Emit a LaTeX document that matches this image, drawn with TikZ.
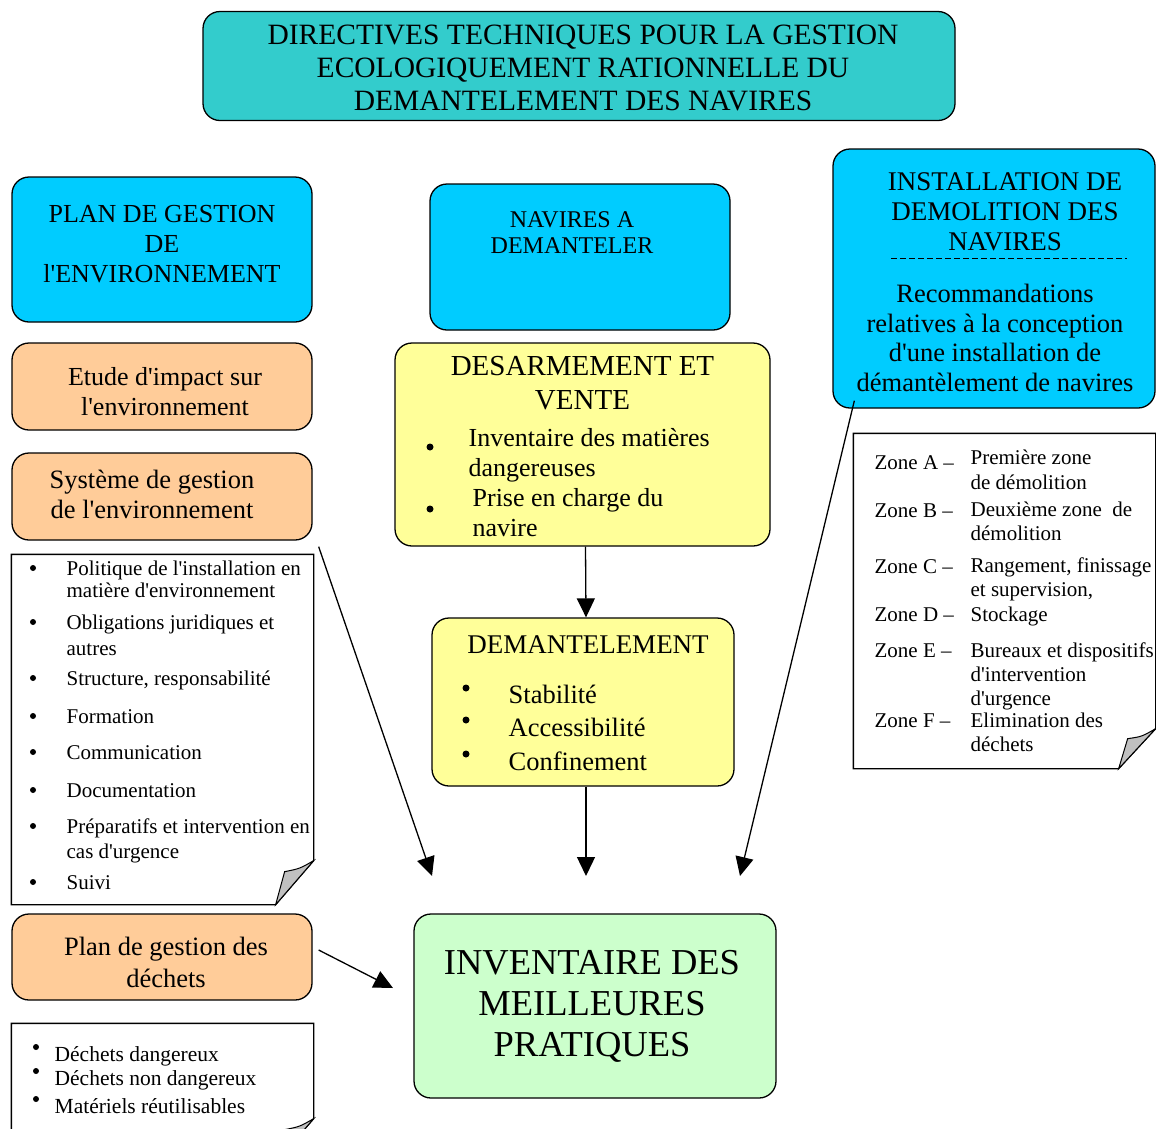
\documentclass[tikz,border=0pt]{standalone}
\usepackage{fontspec}
\setmainfont{Liberation Serif}[Ligatures=TeXOff]
\usetikzlibrary{positioning,arrows.meta}

\definecolor{titleteal}{HTML}{33CCCC}
\definecolor{skyblue}{HTML}{00CCFF}
\definecolor{peach}{HTML}{FFCC99}
\definecolor{paleyellow}{HTML}{FFFF99}
\definecolor{palegreen}{HTML}{CCFFCC}
\definecolor{foldgray}{HTML}{C0C0C0}

\tikzset{
  box/.style={draw, line width=1.3pt, rounded corners=17pt, inner sep=0pt, align=center},
  note/.style={inner sep=0pt},
  outline/.style={draw, line width=1.3pt},
  fold/.style={draw, line width=1pt, fill=foldgray},
  heading/.style={inner sep=0pt, align=center},
  listitem/.style={inner sep=0pt, anchor=base west, align=left, font={\fontsize{21}{22}\selectfont}},
}

\begin{document}
\begin{tikzpicture}[x=1pt, y=-1pt, >={Triangle[length=19pt,width=18pt]}, line width=1.3pt]
  \useasboundingbox (0,0) rectangle (1156,1128);

  % main boxes
  \node[box, fill=titleteal, minimum width=752, minimum height=109] (title) at (579,66) {};
  \node[heading, font={\fontsize{29.5}{33}\selectfont}, xshift=4pt, yshift=-2pt] (titletext) at (title) {DIRECTIVES TECHNIQUES POUR LA GESTION\\ECOLOGIQUEMENT RATIONNELLE DU\\DEMANTELEMENT DES NAVIRES};
  \node[box, fill=skyblue, minimum width=300, minimum height=145] (plan) at (162,249.5) {};
  \node[heading, font={\fontsize{26}{30}\selectfont}, yshift=5pt] (plantext) at (plan) {PLAN DE GESTION\\DE\\l'ENVIRONNEMENT};
  \node[box, fill=skyblue, minimum width=300, minimum height=146] (nav) at (580,257) {};
  \node[heading, font={\fontsize{24}{26}\selectfont}, below=28pt of nav.north, xshift=-8pt] (navtext) {NAVIRES A\\DEMANTELER};
  \node[box, fill=skyblue, minimum width=322, minimum height=259] (inst) at (994,278.5) {};
  \node[heading, font={\fontsize{27}{30}\selectfont}, below=24pt of inst.north, xshift=11pt] (insthead) {INSTALLATION DE\\DEMOLITION DES\\NAVIRES};
  \draw[dash pattern=on 6pt off 3pt, line width=1pt] (891,258) -- (1127,258);
  \node[heading, font={\fontsize{26.5}{29.5}\selectfont}] (instrec) at (995,338) {Recommandations\\relatives à la conception\\d'une installation de\\démantèlement de navires};

  \node[box, fill=peach, minimum width=300, minimum height=87] (etude) at (162,386.5) {};
  \node[heading, font={\fontsize{26}{30}\selectfont}, xshift=3pt, yshift=-5pt] (etudetext) at (etude) {Etude d'impact sur\\l'environnement};
  \node[box, fill=peach, minimum width=300, minimum height=87] (sys) at (162,496.5) {};
  \node[heading, font={\fontsize{26.5}{30}\selectfont}, xshift=-10pt, yshift=2pt] (systext) at (sys) {Système de gestion\\de l'environnement};
  \node[box, fill=peach, minimum width=300, minimum height=86] (waste) at (162,957) {};
  \node[heading, font={\fontsize{26.5}{32}\selectfont}, xshift=4pt, yshift=-5pt] (wastetext) at (waste) {Plan de gestion des\\déchets};

  \node[box, fill=paleyellow, minimum width=375, minimum height=203] (des) at (582.5,444.5) {};
  \node[heading, font={\fontsize{29}{34}\selectfont}, below=13pt of des.north] (destitle) {DESARMEMENT ET\\VENTE};
  \node[listitem, font={\fontsize{26}{30}\selectfont}] (des1) at (468,476) {Inventaire des matières\\dangereuses};
  \node[listitem, font={\fontsize{26}{30}\selectfont}] (des2) at (472,536) {Prise en charge du\\navire};
  \fill (430,447) circle (3.5pt) (430,509) circle (3.5pt);

  \node[box, fill=paleyellow, minimum width=302, minimum height=168] (dem) at (583,702) {};
  \node[heading, font={\fontsize{27}{30}\selectfont}, below=18pt of dem.north, xshift=5pt] (demtitle) {DEMANTELEMENT};
  \node[listitem, font={\fontsize{26.5}{30}\selectfont}] (dem1) at (508,703) {Stabilité};
  \node[listitem, font={\fontsize{26.5}{30}\selectfont}] (dem2) at (508,736) {Accessibilité};
  \node[listitem, font={\fontsize{26.5}{30}\selectfont}] (dem3) at (508,770) {Confinement};
  \foreach \y in {688,720,754} \fill (466,\y) circle (3.5pt);

  \node[box, fill=palegreen, minimum width=362, minimum height=184] (inv) at (595,1006) {};
  \node[heading, font={\fontsize{36.5}{41}\selectfont}, xshift=-3pt] (invtext) at (inv) {INVENTAIRE DES\\MEILLEURES\\PRATIQUES};

  % notes with folded corner
  \node[note, minimum width=301, minimum height=349] (polnote) at (162.5,729.5) {};
  \draw[outline] (polnote.north west) -- (polnote.north east) -- ([yshift=44pt]polnote.south east) -- ([xshift=-38pt]polnote.south east) -- (polnote.south west) -- cycle;
  \draw[fold] ([yshift=44pt]polnote.south east) .. controls ([shift={(-14pt,36pt)}]polnote.south east) .. ([shift={(-29pt,33pt)}]polnote.south east) -- ([xshift=-38pt]polnote.south east) -- cycle;
  \foreach \y in {568,622,678,716,752,790,826,882} \fill (33,\y) circle (3pt);
  \node[listitem] (pol1) at (66,597) {Politique de l'installation en\\matière d'environnement};
  \node[listitem] (pol2) at (66,655) {Obligations juridiques et\\[4pt]autres};
  \node[listitem] (pol3) at (66,685) {Structure, responsabilité};
  \node[listitem] (pol4) at (66,723) {Formation};
  \node[listitem] (pol5) at (66,759) {Communication};
  \node[listitem] (pol6) at (66,797) {Documentation};
  \node[listitem] (pol7) at (66,858) {Préparatifs et intervention en\\[3pt]cas d'urgence};
  \node[listitem] (pol8) at (66,889) {Suivi};

  \node[note, minimum width=301, minimum height=334] (zonenote) at (1004.5,601) {};
  \draw[outline] (zonenote.north west) -- (zonenote.north east) -- ([yshift=40pt]zonenote.south east) -- ([xshift=-37pt]zonenote.south east) -- (zonenote.south west) -- cycle;
  \draw[fold] ([yshift=40pt]zonenote.south east) .. controls ([shift={(-14pt,32pt)}]zonenote.south east) .. ([shift={(-28pt,30pt)}]zonenote.south east) -- ([xshift=-37pt]zonenote.south east) -- cycle;
  \foreach \z/\y in {A/469,B/517,C/573,D/621,E/657,F/727}
    \node[listitem] (zone\z) at (874,\y) {Zone \z~–};
  \node[listitem, font={\fontsize{21}{25}\selectfont}] (zdescA) at (970,489) {Première zone\\de démolition};
  \node[listitem, font={\fontsize{21}{24}\selectfont}] (zdescB) at (970,540) {Deuxième zone \ de\\démolition};
  \node[listitem, font={\fontsize{21}{24}\selectfont}] (zdescC) at (970,596) {Rangement, finissage\\et supervision,};
  \node[listitem] (zdescD) at (970,621) {Stockage};
  \node[listitem, font={\fontsize{21}{24}\selectfont}] (zdescE) at (970,705) {Bureaux et dispositifs\\d'intervention\\d'urgence};
  \node[listitem, font={\fontsize{21}{24}\selectfont}] (zdescF) at (970,751) {Elimination des\\déchets};

  \node[note, minimum width=301, minimum height=138] (wastenote) at (162.5,1093) {};
  \draw[outline] (wastenote.north west) -- (wastenote.north east) -- ([yshift=44pt]wastenote.south east) -- ([xshift=-38pt]wastenote.south east) -- (wastenote.south west) -- cycle;
  \draw[fold] ([yshift=44pt]wastenote.south east) .. controls ([shift={(-14pt,36pt)}]wastenote.south east) .. ([shift={(-29pt,33pt)}]wastenote.south east) -- ([xshift=-38pt]wastenote.south east) -- cycle;
  \foreach \y in {1047,1071,1099} \fill (36,\y) circle (3pt);
  \node[listitem, font={\fontsize{21.5}{24}\selectfont}] (waste1) at (54,1061) {Déchets dangereux};
  \node[listitem, font={\fontsize{21.5}{24}\selectfont}] (waste2) at (54,1085) {Déchets non dangereux};
  \node[listitem, font={\fontsize{21.5}{24}\selectfont}] (waste3) at (54,1113) {Matériels réutilisables};

  % arrows
  \coordinate (tipL) at (432,876);
  \coordinate (tipM) at (586,876);
  \coordinate (tipR) at (740,876);
  \coordinate (tipW) at (393,988);
  \draw[->] ([xshift=3pt]des.south) -- ([xshift=3pt]dem.north);
  \draw[->] ([xshift=3pt]dem.south) -- (tipM);
  \draw[->] ([shift={(6,6)}]sys.south east) -- (tipL);
  \draw[->] ([shift={(22,-8)}]inst.south west) -- (tipR);
  \draw[->] ([shift={(6,-7)}]waste.east) -- (tipW);
\end{tikzpicture}
\end{document}
